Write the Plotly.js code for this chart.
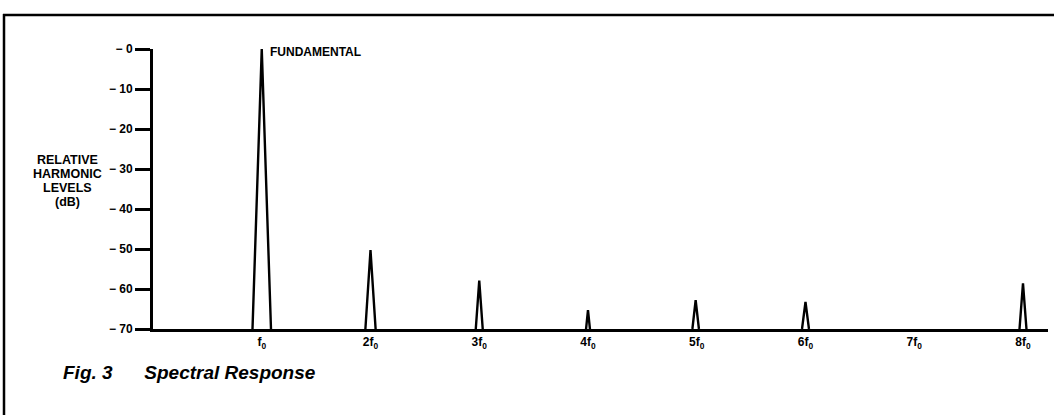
<!DOCTYPE html>
<html>
<head>
<meta charset="utf-8">
<script src="https://cdn.plot.ly/plotly-3.0.1.min.js"></script>
<style>
  html, body { margin: 0; padding: 0; background: #fff; }
  #chart { width: 1054px; height: 415px; }
</style>
</head>
<body>
<div id="chart"></div>
<script>
// ---- data ----
const harmonicLabels = ["f<sub>0</sub>", "2f<sub>0</sub>", "3f<sub>0</sub>", "4f<sub>0</sub>", "5f<sub>0</sub>", "6f<sub>0</sub>", "7f<sub>0</sub>", "8f<sub>0</sub>"];
const harmonicIndex = [1, 2, 3, 4, 5, 6, 7, 8];
const peakPositions = [1.0, 2.0, 3.0, 4.0, 4.99, 6.0, 8.0];
const peakLevels    = [0, -50.3, -57.9, -65.3, -62.8, -63.2, -58.6];   // dB
const peakHalfWidth = [0.085, 0.047, 0.032, 0.018, 0.03, 0.032, 0.032];
const yTickVals  = [0, -10, -20, -30, -40, -50, -60, -70];
const yTickText  = ["\u2212 0", "\u2212 10", "\u2212 20", "\u2212 30", "\u2212 40", "\u2212 50", "\u2212 60", "\u2212 70"];
const yTitleLines = ["RELATIVE", "HARMONIC", "LEVELS", "(dB)"];
const floorLevel = -70;

const FONT = "Liberation Sans, Arial, Helvetica, sans-serif";

const traces = peakPositions.map((x, i) => ({
  type: "scatter",
  mode: "lines",
  x: [x - peakHalfWidth[i], x, x + peakHalfWidth[i]],
  y: [floorLevel, peakLevels[i], floorLevel],
  line: { color: "#000", width: 2.4 },
  cliponaxis: false,
  hoverinfo: "skip",
  showlegend: false
}));

const M = { l: 153, r: 6, t: 49, b: 86 };
const W = 1054, H = 415;
const pw = W - M.l - M.r, ph = H - M.t - M.b;
const px = v => (v - M.l) / pw;
const py = v => 1 - (v - M.t) / ph;

const titleAnns = yTitleLines.map((t, i) => ({
  xref: "paper", yref: "paper", x: px(67), y: py(160 + 14 * i), text: t,
  showarrow: false, xanchor: "center", yanchor: "middle",
  font: { family: FONT, size: 12.5, color: "#000", weight: "bold" }
}));

const layout = {
  width: W, height: H,
  margin: M,
  paper_bgcolor: "#fff",
  plot_bgcolor: "#fff",
  font: { family: FONT, color: "#000", size: 11 },
  xaxis: {
    range: [0, 8.23],
    tickvals: harmonicIndex,
    ticktext: harmonicLabels,
    ticks: "",
    showgrid: false, zeroline: false,
    showline: true, linecolor: "#000", linewidth: 3,
    tickfont: { family: FONT, size: 12, color: "#000", weight: "bold" },
    fixedrange: true
  },
  yaxis: {
    range: [floorLevel, 0],
    tickvals: yTickVals,
    ticktext: yTickText,
    ticks: "outside", ticklen: 15, tickwidth: 3, tickcolor: "#000",
    showgrid: false, zeroline: false,
    showline: true, linecolor: "#000", linewidth: 3,
    tickfont: { family: FONT, size: 12, color: "#000", weight: "bold" },
    fixedrange: true
  },
  shapes: [
    { type: "line", xref: "paper", yref: "paper", x0: px(3), x1: px(1054), y0: py(15), y1: py(15),
      line: { color: "#000", width: 2.5 } },
    { type: "line", xref: "paper", yref: "paper", x0: px(4), x1: px(4), y0: py(14), y1: py(415),
      line: { color: "#000", width: 2.5 } }
  ],
  annotations: [
    { xref: "x", yref: "y", x: 1, y: 0, text: "FUNDAMENTAL", showarrow: false,
      xanchor: "left", yanchor: "middle", xshift: 6, yshift: -3,
      font: { family: FONT, size: 12, color: "#000", weight: "bold" } },
    ...titleAnns,
    { xref: "paper", yref: "paper", x: px(61), y: py(372),
      text: "<i>Fig. 3&nbsp;&nbsp;&nbsp;&nbsp;&nbsp;&nbsp;Spectral Response</i>",
      showarrow: false, xanchor: "left", yanchor: "middle",
      font: { family: FONT, size: 19, color: "#000", weight: "bold" } }
  ]
};

Plotly.newPlot("chart", traces, layout, { displayModeBar: false, staticPlot: true });
</script>
</body>
</html>
